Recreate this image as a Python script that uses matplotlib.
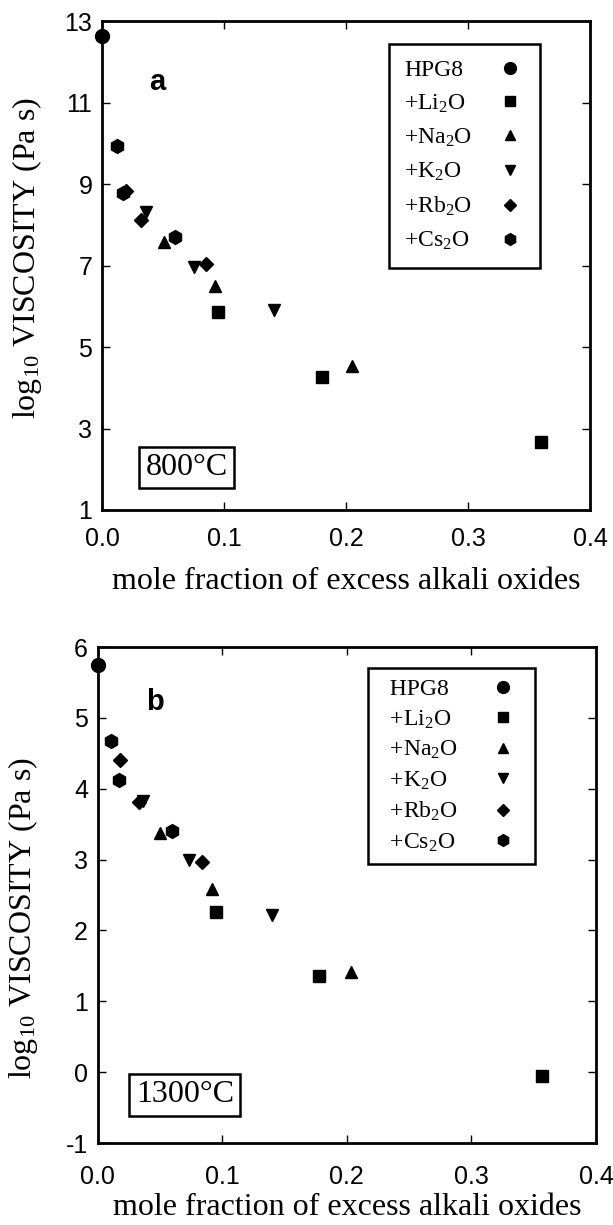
import matplotlib
matplotlib.use("Agg")
import matplotlib.pyplot as plt
from matplotlib.lines import Line2D

plt.rcParams['font.family'] = ['Liberation Serif', 'DejaVu Serif']
plt.rcParams['mathtext.default'] = 'regular'

# series names / markers
names = ['HPG8', '+Li$_2$O', '+Na$_2$O', '+K$_2$O', '+Rb$_2$O', '+Cs$_2$O']
markers = ['o', 's', '^', 'v', 'D', 'h']
msizes = [10, 8, 9, 9, 7, 10]

# panel a, 800 C
a_hpg8_x = [0.0];                 a_hpg8_y = [12.65]
a_li_x = [0.095, 0.180, 0.360];   a_li_y = [5.86, 4.27, 2.68]
a_na_x = [0.051, 0.093, 0.205];   a_na_y = [7.57, 6.50, 4.53]
a_k_x = [0.036, 0.075, 0.141];    a_k_y = [8.33, 6.98, 5.92]
a_rb_x = [0.020, 0.032, 0.085];   a_rb_y = [8.84, 8.12, 7.04]
a_cs_x = [0.012, 0.017, 0.060];   a_cs_y = [9.95, 8.79, 7.71]

# panel b, 1300 C
b_hpg8_x = [0.0];                 b_hpg8_y = [5.74]
b_li_x = [0.095, 0.178, 0.357];   b_li_y = [2.26, 1.36, -0.06]
b_na_x = [0.050, 0.092, 0.203];   b_na_y = [3.38, 2.58, 1.42]
b_k_x = [0.036, 0.0735, 0.140];   b_k_y = [3.83, 3.00, 2.22]
b_rb_x = [0.018, 0.033, 0.0835];  b_rb_y = [4.41, 3.81, 2.96]
b_cs_x = [0.011, 0.017, 0.060];   b_cs_y = [4.67, 4.12, 3.40]

a_ticks = [1, 3, 5, 7, 9, 11, 13]
b_ticks = [-1, 0, 1, 2, 3, 4, 5, 6]
x_ticks = [0.0, 0.1, 0.2, 0.3, 0.4]

fig = plt.figure(figsize=(6.13, 12.25), dpi=100)
ax1 = fig.add_axes([0.1664, 0.5837, 0.7961, 0.3988])
ax2 = fig.add_axes([0.1594, 0.0669, 0.8129, 0.4049])

def style(ax, yticks, ylim, xpad, xlpad):
    ax.set_xlim(0, 0.4)
    ax.set_ylim(*ylim)
    ax.set_xticks(x_ticks)
    ax.set_xticklabels(['%.1f' % t for t in x_ticks])
    ax.set_yticks(yticks)
    ax.set_yticklabels([str(t) for t in yticks])
    for s in ax.spines.values():
        s.set_linewidth(2.0)
    ax.tick_params(direction='in', top=True, right=True, length=6, width=1.0,
                   labelsize=18)
    ax.tick_params(axis='x', pad=xpad)
    ax.tick_params(axis='y', pad=7)
    for lab in ax.get_xticklabels() + ax.get_yticklabels():
        lab.set_family(['Liberation Sans', 'DejaVu Sans'])
    ax.set_xlabel('mole fraction of excess alkali oxides', fontsize=23, labelpad=xlpad)
    ax.set_ylabel('log$_{10}$ VISCOSITY (Pa s)', fontsize=23)

def draw(ax, xs, ys):
    for x, y, m, ms in zip(xs, ys, markers, msizes):
        ax.plot(x, y, linestyle='none', marker=m, ms=ms, color='black',
                clip_on=False, zorder=3)

def add_legend(ax, labels, anchor, spacing, bpad, hlen, htpad):
    handles = [Line2D([], [], linestyle='none', marker=m, ms=ms * 0.85, color='black')
               for m, ms in zip(markers, msizes)]
    leg = ax.legend(handles, labels, loc='upper left', bbox_to_anchor=anchor,
                    markerfirst=False, fancybox=False, framealpha=1,
                    fontsize=17, labelspacing=spacing, handletextpad=htpad,
                    handlelength=hlen, borderpad=bpad, borderaxespad=0)
    leg.get_frame().set_edgecolor('black')
    leg.get_frame().set_linewidth(1.8)
    return leg

style(ax1, a_ticks, (1, 13), 12, 12)
style(ax2, b_ticks, (-1, 6), 16, 3)

draw(ax1, [a_hpg8_x, a_li_x, a_na_x, a_k_x, a_rb_x, a_cs_x],
     [a_hpg8_y, a_li_y, a_na_y, a_k_y, a_rb_y, a_cs_y])
draw(ax2, [b_hpg8_x, b_li_x, b_na_x, b_k_x, b_rb_x, b_cs_x],
     [b_hpg8_y, b_li_y, b_na_y, b_k_y, b_rb_y, b_cs_y])

leg1 = add_legend(ax1, names, (0.588, 0.954), 0.5, 0.65, 1.2, 1.0)
leg2 = add_legend(ax2, ['  ' + n for n in names], (0.542, 0.958), 0.35, 0.45, 1.8, 1.0)

ax1.text(0.113, 0.876, 'a', transform=ax1.transAxes, fontsize=21, fontweight='bold',
         family=['Liberation Sans'], ha='center', va='center')
ax2.text(0.115, 0.89, 'b', transform=ax2.transAxes, fontsize=21, fontweight='bold',
         family=['Liberation Sans'], ha='center', va='center')

box = dict(boxstyle='square,pad=0.2', fc='white', ec='black', lw=1.8)
ax1.text(0.173, 0.087, '800°C', transform=ax1.transAxes, fontsize=23,
         ha='center', va='center', bbox=box)
ax2.text(0.175, 0.097, '1300°C', transform=ax2.transAxes, fontsize=23,
         ha='center', va='center', bbox=box)

ax1.yaxis.set_label_coords(-0.119, 0.516)
ax2.yaxis.set_label_coords(-0.116, 0.454)

# left-align legend text while keeping markers in one column
fig.canvas.draw()
r = fig.canvas.get_renderer()
for leg in (leg1, leg2):
    widths = [t.get_window_extent(r).width for t in leg.get_texts()]
    wmax = max(widths)
    col = leg._legend_handle_box.get_children()[0]
    for item, w in zip(col.get_children(), widths):
        item.sep = item.sep + (wmax - w) * 72.0 / fig.dpi

fig.savefig('out.png', dpi=100)
